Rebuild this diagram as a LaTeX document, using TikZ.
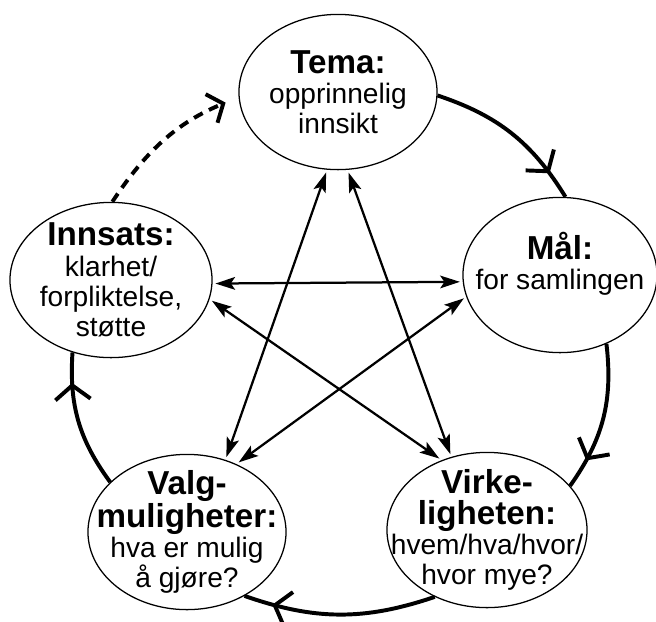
\documentclass[tikz,border=0pt]{standalone}
\usepackage{fontspec}
\setmainfont{Liberation Sans}
\usetikzlibrary{shapes.geometric,arrows.meta,decorations.markings}

\tikzset{
  fase/.style={draw, ellipse, fill=white, line width=0.9pt, inner sep=0pt,
    minimum width=4.95cm, minimum height=3.88cm},
  fasetekst/.style={align=center, inner sep=0pt, font=\fontsize{20}{21.5}\selectfont},
  sirkel/.style={line width=2.8pt},
  pil/.style={<->, >={Stealth[length=14pt,width=9pt,inset=3pt]}, line width=1.6pt,
    shorten <=2pt, shorten >=2pt},
  midtpil/.style={postaction={decorate}, decoration={markings,
    mark=at position #1 with {\arrow{Straight Barb[length=10pt,width=25pt]}}}}
}
\newcommand{\tittel}[1]{{\bfseries\fontsize{23.6}{22}\selectfont #1}}

\begin{document}
\begin{tikzpicture}[x=0.025cm, y=-0.025cm]
    \useasboundingbox (0,0) rectangle (656,621);

    % de fem fasene
    \node[fase, label={[fasetekst]center:\tittel{Tema:}\\opprinnelig\\innsikt}] (tema) at (338,92) {};
    \node[fase, minimum width=4.85cm, label={[fasetekst, yshift=8pt]center:\tittel{Mål:}\\for samlingen}] (mal) at (560,275) {};
    \node[fase, minimum width=5.05cm, label={[fasetekst]center:\tittel{Innsats:}\\klarhet/\\forpliktelse,\\støtte}] (inn) at (111,280) {};
    \node[fase, minimum width=5cm, label={[fasetekst]center:\tittel{Virke-}\\\tittel{ligheten:}\\hvem/hva/hvor/\\hvor mye?}] (virke) at (487,530) {};
    \node[fase, label={[fasetekst]center:\tittel{Valg-}\\\tittel{muligheter:}\\hva er mulig\\å gjøre?}] (valg) at (187,532) {};

    % sirkelen rundt
    \draw[sirkel, midtpil=0.83] (tema.-2) to[bend left=20] (mal.86);
    \draw[sirkel, midtpil=0.8] (mal.-56) to[bend left=21] (virke.28);
    \draw[sirkel, midtpil=0.85] (virke.232) to[bend left=19] (valg.-48);
    \draw[sirkel, midtpil=0.78] (valg.147) to[bend left=20] (inn.242);
    \draw[sirkel, dash pattern=on 7pt off 5pt, -{Straight Barb[length=9pt,width=22pt]},
      shorten >=10pt] (inn.89) to[bend left=17] (tema.183);

    % stjernen i midten
    \draw[pil] (inn.-2) -- (mal.184);
    \draw[pil] (inn.-11) -- (virke.123);
    \draw[pil] (mal.193) -- (valg.54);
    \draw[pil] (tema.262) -- (valg.62);
    \draw[pil] (tema.277) -- (virke.116);

\end{tikzpicture}
\end{document}
